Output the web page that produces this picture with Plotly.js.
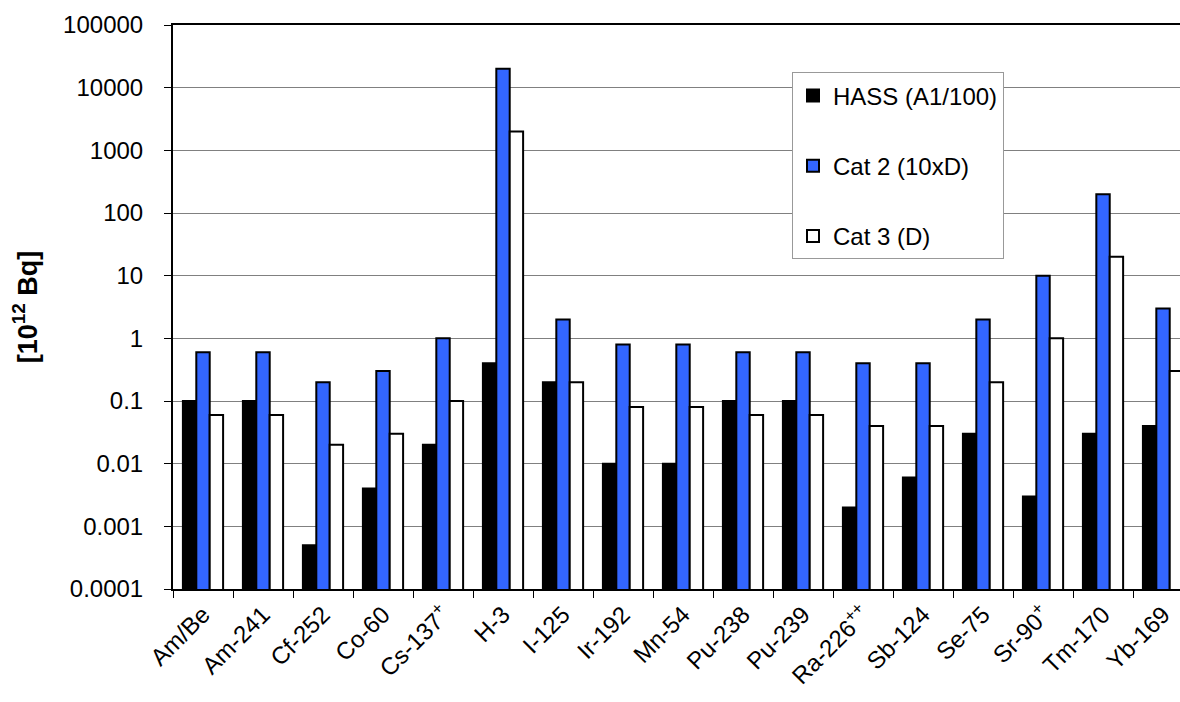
<!DOCTYPE html>
<html>
<head>
<meta charset="utf-8">
<script src="https://cdn.plot.ly/plotly-3.0.1.min.js"></script>
<style>html,body{margin:0;padding:0;background:#fff;}#chart{width:1180px;height:702px;}</style>
</head>
<body>
<div id="chart"></div>
<script>
const categories = ["Am/Be","Am-241","Cf-252","Co-60","Cs-137<sup>+</sup>","H-3","I-125","Ir-192","Mn-54","Pu-238","Pu-239","Ra-226<sup>++</sup>","Sb-124","Se-75","Sr-90<sup>+</sup>","Tm-170","Yb-169"];
const hass = [0.1,0.1,0.0005,0.004,0.02,0.4,0.2,0.01,0.01,0.1,0.1,0.002,0.006,0.03,0.003,0.03,0.04];
const cat2 = [0.6,0.6,0.2,0.3,1,20000,2,0.8,0.8,0.6,0.6,0.4,0.4,2,10,200,3];
const cat3 = [0.06,0.06,0.02,0.03,0.1,2000,0.2,0.08,0.08,0.06,0.06,0.04,0.04,0.2,1,20,0.3];
const seriesNames = ["HASS (A1/100)","Cat 2 (10xD)","Cat 3 (D)"];
const yTickVals = [0.0001,0.001,0.01,0.1,1,10,100,1000,10000,100000];
const yTickText = ["0.0001","0.001","0.01","0.1","1","10","100","1000","10000","100000"];

const FONT = "Liberation Sans, Arial, sans-serif";
function bar(name, y, color, grp){
  return {type:"bar", name:name, x:categories, y:y, legendgroup:grp,
    marker:{color:color, line:{color:"#000", width:2}}};
}
const data = [
  bar(seriesNames[0], hass, "#000000", "a"),
  bar(seriesNames[1], cat2, "#3366FF", "b"),
  bar(seriesNames[2], cat3, "#FFFFFF", "c")
];
const layout = {
  width:1180, height:702,
  margin:{l:173, r:0, t:25, b:113},
  paper_bgcolor:"#fff", plot_bgcolor:"#fff",
  font:{family:FONT, color:"#000"},
  barmode:"group", bargap:0.33, bargroupgap:0,
  showlegend:true,
  legend:{x:0.6147, y:0.916, xanchor:"left", yanchor:"top",
    bgcolor:"#fff", bordercolor:"#999", borderwidth:1,
    font:{family:FONT, size:24, color:"#000"},
    traceorder:"grouped", tracegroupgap:36},
  xaxis:{type:"category", range:[-0.5, 16.283], showline:true, mirror:true,
    linecolor:"#000", linewidth:2, ticks:"outside", tickson:"boundaries",
    ticklen:7, tickcolor:"#000", tickangle:-45, showgrid:false,
    tickfont:{family:FONT, size:24, color:"#000"}, fixedrange:true},
  yaxis:{type:"log", range:[-4, 5], showline:true, linecolor:"#000", linewidth:2,
    ticks:"outside", ticklen:7, tickcolor:"#000",
    tickvals:yTickVals, ticktext:yTickText, ticklabelstandoff:16,
    showgrid:true, gridcolor:"#808080", gridwidth:1,
    tickfont:{family:FONT, size:24, color:"#000"},
    title:{text:"<b>[10<sup>12</sup> Bq]</b>", font:{family:FONT, size:27, color:"#000"}, standoff:18},
    automargin:false, zeroline:false}
};
Plotly.newPlot("chart", data, layout, {staticPlot:true});
</script>
</body>
</html>
